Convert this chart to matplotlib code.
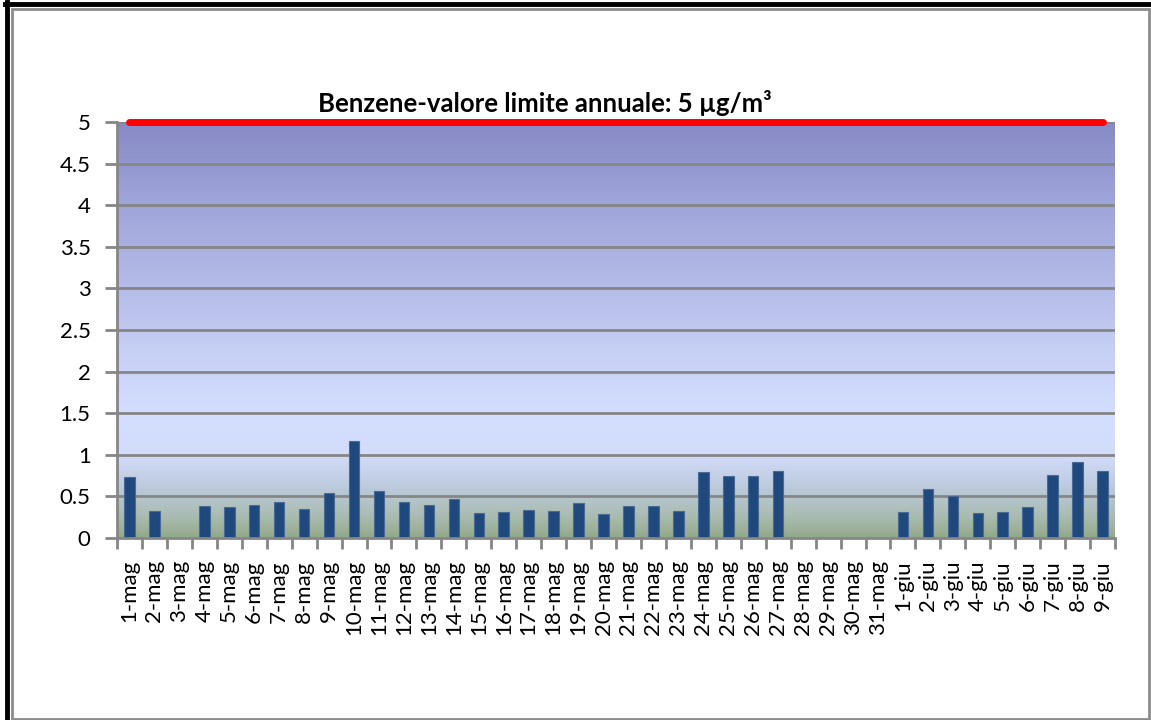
import numpy as np
import matplotlib
matplotlib.use("Agg")
import matplotlib.pyplot as plt
from matplotlib.colors import LinearSegmentedColormap
from matplotlib.lines import Line2D
from matplotlib.patches import Rectangle

plt.rcParams['font.family'] = ['Lato', 'DejaVu Sans']

# Daily benzene concentrations (µg/m³); None = no data
days = [f"{d}-mag" for d in range(1, 32)] + [f"{d}-giu" for d in range(1, 10)]
benzene = [0.73, 0.33, None, 0.38, 0.37, 0.40, 0.43, 0.35, 0.54, 1.17,
           0.57, 0.43, 0.40, 0.47, 0.30, 0.31, 0.34, 0.33, 0.42, 0.29,
           0.38, 0.38, 0.33, 0.79, 0.74, 0.74, 0.81, None, None, None,
           None, 0.31, 0.59, 0.50, 0.30, 0.31, 0.37, 0.76, 0.91, 0.81]
limit_value = 5
yticks = [0, 0.5, 1, 1.5, 2, 2.5, 3, 3.5, 4, 4.5, 5]
title = "Benzene-valore limite annuale: 5 µg/m³"

W, H = 1151, 720
fig = plt.figure(figsize=(W / 100, H / 100), dpi=100)
fig.patch.set_facecolor("white")

# chart frame: dark outer edge on left/top, grey border around
fig.add_artist(Line2D([6.5 / W, 6.5 / W], [0, 1 - 2 / H], color="black", lw=3.5,
                      transform=fig.transFigure))
fig.add_artist(Line2D([5 / W, 1], [1 - 3.5 / H, 1 - 3.5 / H], color="black", lw=3.5,
                      transform=fig.transFigure))
fig.add_artist(Rectangle((11.5 / W, 1.5 / H), (1148.5 - 11.5) / W, (711.5 - 1.5) / H,
                         fill=False, ec="#8c8c8c", lw=2, transform=fig.transFigure))

x0, x1 = 117, 1115
y0, y1 = 538, 122
ax = fig.add_axes([x0 / W, 1 - y0 / H, (x1 - x0) / W, (y0 - y1) / H])
ax.set_facecolor("none")

n = len(days)
x = np.arange(n)
ax.set_xlim(-0.5, n - 0.5)
ax.set_ylim(0, 5)

# gradient plot-area fill
grad = LinearSegmentedColormap.from_list("bg", [
    (0.00, "#93a98b"),
    (0.05, "#a9bcb0"),
    (0.12, "#bccadc"),
    (0.20, "#d2dcfb"),
    (0.30, "#d4defe"),
    (0.45, "#c6cff4"),
    (0.65, "#b0b6e4"),
    (0.85, "#9a9fd6"),
    (1.00, "#8689c4"),
])
ax.imshow(np.linspace(0, 1, 256).reshape(-1, 1), cmap=grad, aspect="auto",
          extent=(-0.5, n - 0.5, 0, 5), origin="lower", zorder=0)

for yv in yticks[1:]:
    ax.axhline(yv, color="#868686", lw=2, zorder=1)

vals = np.array([np.nan if v is None else v for v in benzene], dtype=float)
mask = ~np.isnan(vals)
ax.bar(x[mask], vals[mask], width=0.42, color="#1f497d", edgecolor="#4a6a96",
       linewidth=0.8, zorder=2)

ax.plot([x[0], x[-1]], [limit_value, limit_value], color="#ff0000", lw=5,
        solid_capstyle="round", zorder=3, clip_on=False)

for side in ("top", "right"):
    ax.spines[side].set_visible(False)
for side in ("left", "bottom"):
    ax.spines[side].set_color("#868686")
    ax.spines[side].set_linewidth(2)

ax.set_yticks(yticks)
ax.set_yticklabels([f"{v:g}" for v in yticks], fontsize=16)
ax.tick_params(axis="y", length=9, width=2, color="#868686", pad=10)

ax.set_xticks(x)
ax.set_xticklabels(days, rotation=90, fontsize=16, va="top")
ax.set_xticks(np.arange(-0.5, n, 1), minor=True)
ax.tick_params(axis="x", which="major", length=0, pad=16)
ax.tick_params(axis="x", which="minor", length=8, width=2, color="#868686")

fig.text(545 / W, 1 - 103 / H, title, ha="center", va="center",
         fontsize=18.5, fontweight="bold")

fig.savefig("out.png", dpi=100)
